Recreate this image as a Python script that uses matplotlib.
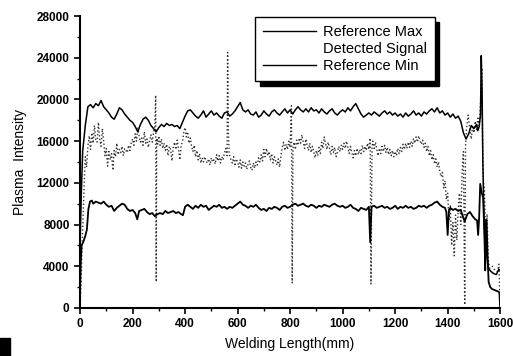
import numpy as np
import matplotlib
matplotlib.use("Agg")
import matplotlib.pyplot as plt
from matplotlib.lines import Line2D
from matplotlib.patches import Rectangle

plt.rcParams['font.family'] = ['Liberation Sans', 'DejaVu Sans']

# Reference Max (mm, intensity)
max_x = [0, 5, 10, 20, 30, 40, 50, 60, 70, 80, 90, 100, 110, 120, 130, 140, 150, 160, 170, 180,
         190, 200, 210, 220, 230, 240, 250, 260, 270, 280, 290, 300, 310, 320, 330, 340, 350, 360,
         370, 380, 390, 400, 410, 420, 430, 440, 450, 460, 470, 480, 490, 500, 510, 520, 530, 540,
         550, 560, 570, 580, 590, 600, 610, 620, 630, 640, 650, 660, 670, 680, 690, 700, 710, 720,
         730, 740, 750, 760, 770, 780, 790, 800, 810, 820, 830, 840, 850, 860, 870, 880, 890, 900,
         910, 920, 930, 940, 950, 960, 970, 980, 990, 1000, 1010, 1020, 1030, 1040, 1050, 1060,
         1070, 1080, 1090, 1100, 1110, 1120, 1130, 1140, 1150, 1160, 1170, 1180, 1190, 1200, 1210,
         1220, 1230, 1240, 1250, 1260, 1270, 1280, 1290, 1300, 1310, 1320, 1330, 1340, 1350, 1360,
         1370, 1380, 1390, 1400, 1410, 1420, 1430, 1440, 1450, 1460, 1470, 1480, 1490, 1500, 1510,
         1515, 1520, 1525, 1528, 1531, 1534, 1538, 1542, 1546, 1550, 1555, 1565, 1575, 1585, 1595, 1600]
max_y = [6000, 11000, 15000, 17500, 19300, 19500, 19200, 19600, 19400, 19900, 19300, 19000, 18700,
         18300, 18100, 18600, 19200, 19000, 18600, 18300, 18000, 17800, 17400, 16900, 17600, 18100,
         18300, 18000, 17500, 17200, 16900, 17300, 17600, 17400, 17700, 17500, 17600, 17400, 17500,
         17200, 17800, 18400, 18900, 19000, 18700, 18400, 18200, 18500, 18900, 18300, 18600, 18900,
         18500, 18700, 18400, 18200, 18700, 18800, 18400, 18600, 18900, 19300, 19700, 19000, 18800,
         19000, 18600, 18500, 18800, 18300, 18500, 18900, 18600, 18400, 18800, 19000, 18700, 18500,
         18800, 19100, 18700, 19000, 18600, 19000, 19300, 19000, 18800, 19100, 18800, 19200, 18900,
         19000, 18700, 19100, 18800, 18600, 18900, 19100, 18700, 18500, 18800, 19000, 18800, 19200,
         18900, 19300, 19600, 19100, 18600, 18300, 18500, 18700, 18500, 18800, 18600, 18400, 18700,
         18900, 18600, 18800, 18500, 18700, 18400, 18600, 18300, 18700, 18400, 18600, 18900, 18500,
         18700, 18400, 18800, 18600, 18900, 19100, 18800, 19200, 18700, 18900, 18500, 18700, 18300,
         18600, 18200, 18400, 17900, 16800, 16200, 16700, 17500, 17200, 17600, 17000, 17400, 18500,
         24200, 21000, 14000, 9000, 6000, 8500, 5000, 3800, 3500, 3300, 3200, 3700, 3600]

# Reference Min
min_x = [0, 3, 6, 12, 20, 26, 32, 38, 45, 50, 60, 70, 80, 90, 100, 110, 120, 130, 140, 150, 160,
         170, 180, 190, 200, 210, 218, 225, 235, 245, 255, 265, 275, 285, 295, 305, 315, 325, 335,
         345, 355, 365, 375, 385, 392, 400, 410, 420, 430, 440, 450, 460, 470, 480, 490, 500, 510,
         520, 530, 540, 550, 560, 570, 580, 590, 600, 610, 620, 630, 640, 650, 660, 670, 680, 690,
         700, 710, 720, 730, 740, 750, 760, 770, 780, 790, 800, 810, 820, 830, 840, 850, 860, 870,
         880, 890, 900, 910, 920, 930, 940, 950, 960, 970, 980, 990, 1000, 1010, 1020, 1030, 1040,
         1050, 1060, 1070, 1080, 1090, 1100, 1105, 1110, 1120, 1130, 1140, 1150, 1160, 1170, 1180,
         1190, 1200, 1210, 1220, 1230, 1240, 1250, 1260, 1270, 1280, 1290, 1300, 1310, 1320, 1330,
         1340, 1350, 1360, 1370, 1380, 1390, 1395, 1400, 1405, 1410, 1420, 1430, 1440, 1450, 1460,
         1465, 1475, 1485, 1495, 1505, 1512, 1516, 1520, 1524, 1530, 1535, 1540, 1543, 1548, 1552,
         1556, 1562, 1570, 1580, 1590, 1597, 1600]
min_y = [1500, 4500, 6000, 6300, 6900, 7500, 9500, 10200, 10300, 10000, 10200, 10100, 10000, 10200,
         9900, 9700, 9800, 9300, 9600, 9800, 10000, 9900, 9500, 9300, 9400, 9100, 8500, 9300, 9400,
         9500, 9200, 9000, 9100, 8800, 9000, 9100, 9000, 9300, 9100, 9200, 9300, 9100, 9200, 9000,
         8900, 9700, 9900, 9700, 9500, 9800, 9600, 9900, 9700, 9800, 9400, 9600, 9800, 9700, 9900,
         9600, 9700, 9500, 9700, 9600, 9800, 10000, 10200, 9900, 9800, 9600, 9800, 9700, 9900, 9600,
         9400, 9500, 9300, 9600, 9500, 9700, 9600, 9400, 9700, 9800, 9600, 9700, 9900, 10000, 9800,
         9900, 10000, 9800, 9700, 9900, 9800, 9600, 9800, 9700, 9900, 9800, 9700, 9900, 10000, 9800,
         9700, 9800, 9600, 9700, 9900, 9600, 9500, 9300, 9600, 9500, 9400, 9700, 6300, 9700, 9800,
         9600, 9700, 9800, 9600, 9700, 9500, 9600, 9800, 9500, 9700, 9600, 9800, 9600, 9700, 9500,
         9600, 9800, 9700, 9800, 9600, 9800, 9900, 10100, 10200, 9900, 9700, 9600, 9200, 7000, 9400,
         9600, 9400, 9500, 9300, 9400, 8600, 8300, 9000, 9200, 8800, 8500, 8400, 7000, 8700, 11900,
         11000, 10600, 7000, 3600, 8400, 5000, 2500, 2000, 1800, 1700, 1600, 1500, 0]

# Detected Signal
det_x = [0, 4, 8, 12, 16, 20, 25, 30, 35, 40, 45, 50, 55, 60, 65, 70, 75, 80, 85, 90, 95, 100, 105,
         110, 115, 120, 125, 130, 135, 140, 145, 150, 155, 160, 165, 170, 180, 185, 190, 195, 200,
         205, 210, 215, 220, 225, 230, 235, 240, 245, 250, 255, 260, 265, 270, 275, 280, 285, 288,
         290, 292, 296, 300, 305, 310, 315, 320, 325, 330, 335, 340, 345, 350, 355, 360, 365, 370,
         375, 380, 385, 390, 395, 400, 405, 410, 415, 420, 425, 430, 435, 440, 445, 450, 455, 460,
         465, 470, 475, 480, 485, 490, 495, 500, 505, 510, 515, 520, 525, 530, 535, 540, 545, 550,
         555, 560, 562, 565, 568, 575, 580, 585, 590, 595, 600, 605, 610, 615, 620, 625, 630, 635,
         640, 645, 650, 655, 660, 665, 670, 675, 680, 685, 690, 695, 700, 705, 710, 715, 720, 725,
         730, 735, 740, 745, 750, 755, 760, 765, 770, 775, 780, 785, 790, 795, 800, 805, 808, 811,
         815, 820, 825, 830, 835, 840, 845, 850, 855, 860, 865, 870, 875, 880, 885, 890, 895, 900,
         905, 910, 915, 920, 925, 930, 935, 940, 945, 950, 955, 960, 965, 970, 975, 980, 985, 990,
         995, 1000, 1005, 1010, 1015, 1020, 1025, 1030, 1035, 1040, 1045, 1050, 1055, 1060, 1065,
         1070, 1075, 1080, 1085, 1090, 1095, 1100, 1105, 1108, 1112, 1115, 1120, 1125, 1130, 1135,
         1140, 1145, 1150, 1155, 1160, 1165, 1170, 1175, 1180, 1185, 1190, 1195, 1200, 1205, 1210,
         1215, 1220, 1225, 1230, 1235, 1240, 1245, 1250, 1255, 1260, 1265, 1270, 1275, 1280, 1285,
         1290, 1295, 1300, 1305, 1310, 1315, 1320, 1325, 1330, 1335, 1340, 1345, 1350, 1355, 1360,
         1365, 1370, 1375, 1380, 1385, 1390, 1395, 1400, 1405, 1410, 1415, 1420, 1425, 1430, 1435,
         1440, 1445, 1450, 1455, 1460, 1465, 1468, 1472, 1478, 1485, 1490, 1495, 1500, 1505, 1510,
         1515, 1520, 1525, 1530, 1533, 1536, 1540, 1545, 1550, 1555, 1560, 1570, 1580, 1590, 1595, 1600]
det_y = [0, 2500, 6000, 9000, 12000, 14500, 13500, 15500, 16500, 15200, 16800, 15800, 17500, 16000,
         15900, 17800, 16200, 15500, 17200, 16000, 14600, 15300, 13600, 15000, 14200, 14800, 13200,
         15100, 14500, 15800, 14700, 15200, 14900, 15500, 14600, 15300, 14900, 15600, 15100, 15800,
         16200, 15600, 16700, 16000, 17300, 16500, 15900, 16300, 15600, 16900, 15800, 16200, 15400,
         16000, 16600, 15900, 16800, 17500, 20400, 2500, 16300, 15700, 16500, 15600, 16200, 15300,
         15800, 15100, 15700, 14600, 15500, 15200, 14100, 15400, 15900, 15200, 16100, 15300, 14200,
         15600, 15900, 16800, 17300, 16400, 16900, 15800, 16300, 15500, 15000, 15600, 14500, 15100,
         14200, 14800, 13900, 14400, 14000, 14500, 14100, 13900, 14300, 13700, 14400, 14000, 14200,
         13800, 14700, 14100, 14600, 13900, 14500, 14200, 14900, 15300, 14600, 24500, 17000, 14800,
         14200, 13900, 14500, 13600, 14300, 14000, 13500, 14200, 13400, 14000, 13600, 13900, 13300,
         13800, 14100, 13500, 13200, 13900, 13400, 14000, 13700, 14400, 14000, 14700, 14100, 15200,
         14500, 15300, 14600, 15000, 14200, 14800, 13900, 14500, 14100, 13700, 14300, 13500, 14600,
         15400, 15900, 15100, 15700, 15200, 16000, 15400, 19400, 2400, 15300, 15900, 15200, 16100,
         15600, 16300, 15800, 16600, 15900, 15300, 16200, 15600, 15100, 15800, 14900, 15500, 15000,
         14400, 15100, 14600, 15400, 14800, 15900, 15300, 16400, 15800, 15200, 15900, 15300, 14700,
         15500, 14900, 15400, 14500, 14900, 15500, 15000, 15600, 15200, 15800, 15300, 16000, 15400,
         14800, 15500, 14900, 14400, 15100, 14600, 15300, 14700, 15200, 14800, 15600, 15000, 15500,
         15100, 15800, 15200, 16300, 2300, 15400, 16000, 15300, 15900, 15200, 14600, 15300, 14800,
         15500, 15000, 15600, 14900, 15400, 14700, 15200, 14600, 15100, 14500, 15000, 14600, 15300,
         14800, 15400, 15000, 15700, 15200, 15800, 15300, 15900, 15400, 16000, 15500, 16200, 15800,
         16400, 15900, 16500, 16000, 15700, 16100, 15400, 15800, 15000, 15500, 14600, 15100, 14200,
         14700, 13800, 14300, 13500, 14000, 13100, 12600, 13000, 11500, 12200, 10400, 11000, 8500,
         9800, 6000, 8200, 5000, 8900, 6500, 9500, 11000, 8000, 13000, 15000, 300, 15500, 17200,
         18500, 17000, 16200, 17500, 16800, 17900, 17100, 18200, 17500, 19500, 23000, 16000, 12000,
         11500, 6000, 9000, 4500, 3800, 4000, 3600, 3500, 4200, 0]

fig = plt.figure(figsize=(5.13, 3.56), dpi=100)
ax = fig.add_axes([0.156, 0.135, 0.819, 0.82])

ax.plot(det_x, det_y, color='0.2', lw=1.0, ls=':')
ax.plot(max_x, max_y, color='k', lw=1.1)
ax.plot(min_x, min_y, color='k', lw=1.3)

ax.set_xlim(0, 1600)
ax.set_ylim(0, 28000)
ax.set_xticks(np.arange(0, 1601, 200))
ax.set_yticks(np.arange(0, 28001, 4000))
ax.set_xticks(np.arange(100, 1600, 200), minor=True)
ax.set_yticks(np.arange(2000, 28000, 4000), minor=True)
for lab in ax.get_xticklabels() + ax.get_yticklabels():
    lab.set_fontweight('bold')
ax.tick_params(which='major', direction='out', length=4, width=1.2, labelsize=8.5)
ax.tick_params(which='minor', direction='out', length=2.5, width=1.0)
ax.spines['top'].set_visible(False)
ax.spines['right'].set_visible(False)
ax.spines['left'].set_linewidth(1.5)
ax.spines['bottom'].set_linewidth(1.5)

ax.set_xlabel('Welding Length(mm)', fontsize=10, labelpad=5)
ax.set_ylabel('Plasma  Intensity', fontsize=10, labelpad=7)

handles = [Line2D([], [], color='k', lw=1.0),
           Line2D([], [], linestyle='none'),
           Line2D([], [], color='k', lw=1.0)]
labels = ['Reference Max', 'Detected Signal', 'Reference Min']
leg = ax.legend(handles, labels, loc='upper left', bbox_to_anchor=(0.4, 1.02),
                fontsize=10.5, handlelength=3.6, handletextpad=0.5, labelspacing=0.2,
                frameon=True, fancybox=False, edgecolor='k', borderpad=0.55,
                shadow={'color': 'k', 'alpha': 1.0, 'ox': 3, 'oy': -3})
leg.get_frame().set_linewidth(1.0)

# scan artefact in the corner
fig.add_artist(Rectangle((0, 0), 10 / 513, 18 / 356, transform=fig.transFigure,
                         color='k'))

plt.savefig("out.png", dpi=100)
